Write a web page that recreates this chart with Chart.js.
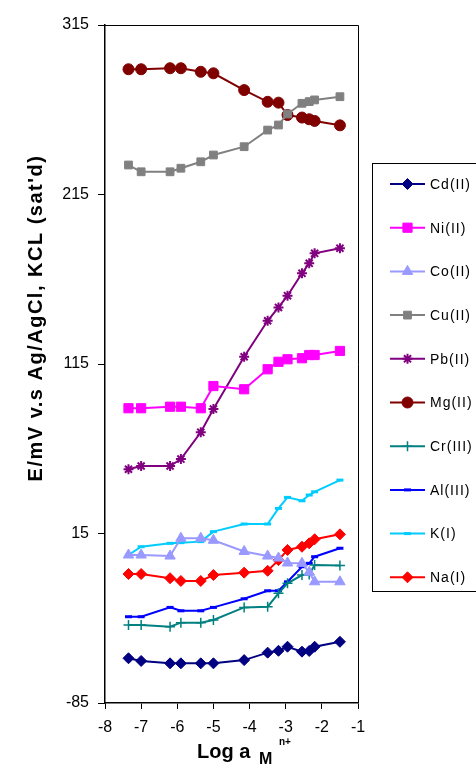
<!DOCTYPE html>
<html>
<head>
<meta charset="utf-8">
<title>Potential response of the electrode</title>
<script src="https://cdn.jsdelivr.net/npm/chart.js@4.4.1/dist/chart.umd.min.js"></script>
<style>
  body { margin: 0; background: #fff; }
  #wrap { width: 476px; height: 765px; }
</style>
</head>
<body>
<div id="wrap"><canvas id="chart" width="476" height="765"></canvas></div>
<script>
// Log activity of the metal ion (same for every series)
const logA = [-7.35, -7.0, -6.2, -5.9, -5.35, -5.0, -4.15, -3.5, -3.2, -2.95, -2.55, -2.35, -2.2, -1.5];

// E/mV readings
const cd = [-58.6, -60.2, -61.6, -61.6, -61.6, -61.6, -59.7, -55.3, -54.2, -51.8, -54.7, -54.3, -51.8, -48.9];
const ni = [88.9, 88.9, 89.8, 89.8, 88.9, 102, 100.1, 111.9, 116.3, 117.8, 118.4, 120.3, 120.3, 122.7];
const co = [2.3, 2.3, 1.7, 12.2, 12.2, 11.0, 4.4, 1.7, 0.5, -2.4, -2.6, -7.8, -13.5, -13.5];
const cu = [232.4, 228.4, 228.4, 230.5, 234.3, 238.3, 243.2, 253, 256, 262.5, 268.8, 269.8, 270.8, 272.7];
const pb = [52.9, 54.8, 54.8, 58.9, 74.7, 88.4, 119.3, 140.5, 148.4, 155.3, 168.5, 174.4, 180.3, 183.3];
const mg = [288.9, 288.9, 289.5, 289.5, 287.4, 286.5, 276.6, 269.7, 269.2, 261.9, 260.4, 259.4, 258.4, 255.8];
const cr = [-39, -39, -40, -37.6, -37.6, -36, -28.6, -28.2, -20.3, -14.4, -9.5, -9.2, -3.6, -3.9];
const al = [-34.1, -34.1, -28.6, -30.6, -30.6, -28.6, -23.5, -18.8, -18.8, -13.5, -4.6, -2.6, 1.3, 6.3];
const k  = [2.3, 7.2, 9.2, 9.6, 10.2, 16.1, 20.6, 20.6, 29.8, 36.3, 34.3, 37.7, 39.6, 46.5];
const na = [-8.9, -8.9, -11.4, -13.0, -13.0, -9.5, -8.1, -7.0, -0.7, 5.3, 7.2, 9.2, 11.6, 14.5];

const seriesNames = ['Cd(II)', 'Ni(II)', 'Co(II)', 'Cu(II)', 'Pb(II)', 'Mg(II)', 'Cr(III)', 'Al(III)', 'K(I)', 'Na(I)'];
const yTicks = [-85, 15, 115, 215, 315];

const FONT = "'Liberation Sans', Arial, sans-serif";

function series(label, values, color, style, radius, bw) {
    return {
        label: label,
        data: values.map((v, i) => ({ x: logA[i], y: v })),
        borderColor: color,
        backgroundColor: color,
        pointBackgroundColor: color,
        pointBorderColor: color,
        pointStyle: style,
        pointRadius: radius,
        pointBorderWidth: bw,
        borderWidth: 2,
        tension: 0
    };
}

// Legend box drawn at the right like the original
const legendBox = {
    id: 'legendBox',
    afterDraw(chart) {
        const ctx = chart.ctx;
        ctx.save();
        ctx.strokeStyle = '#000';
        ctx.lineWidth = 1;
        ctx.strokeRect(372.5, 163.5, 110, 428);
        chart.data.datasets.forEach((ds, i) => {
            const y = 184 + i * 43.7;
            ctx.strokeStyle = ds.borderColor;
            ctx.lineWidth = 2;
            ctx.beginPath();
            ctx.moveTo(390, y);
            ctx.lineTo(425, y);
            ctx.stroke();
            ctx.fillStyle = ds.pointBackgroundColor;
            ctx.strokeStyle = ds.pointBorderColor;
            ctx.lineWidth = ds.pointBorderWidth;
            Chart.helpers.drawPoint(ctx, {
                pointStyle: ds.pointStyle,
                radius: ds.pointRadius,
                rotation: 0,
                borderWidth: ds.pointBorderWidth
            }, 407.5, y);
            ctx.fillStyle = '#000';
            ctx.font = '14px ' + FONT;
            ctx.textBaseline = 'middle';
            ctx.textAlign = 'left';
            ctx.letterSpacing = '1px';
            ctx.fillText(ds.label, 430, y + 1);
        });
        ctx.restore();
    }
};

// Frame on top/right and the axis titles (subscript / superscript)
const frameAndTitles = {
    id: 'frameAndTitles',
    afterDraw(chart) {
        const ctx = chart.ctx;
        const a = chart.chartArea;
        ctx.save();
        ctx.strokeStyle = '#000';
        ctx.lineWidth = 1;
        ctx.beginPath();
        ctx.moveTo(a.left, a.top + 0.5);
        ctx.lineTo(a.right + 0.5, a.top + 0.5);
        ctx.lineTo(a.right + 0.5, a.bottom);
        ctx.stroke();

        // y title
        ctx.fillStyle = '#000';
        ctx.translate(36, 318);
        ctx.rotate(-Math.PI / 2);
        ctx.font = 'bold 20px ' + FONT;
        ctx.letterSpacing = '1.5px';
        ctx.textAlign = 'center';
        ctx.textBaseline = 'middle';
        ctx.fillText("E/mV v.s Ag/AgCl, KCL (sat'd)", 0, 0);
        ctx.setTransform(1, 0, 0, 1, 0, 0);

        // x title: Log a  M (sub)  n+ (sup)
        ctx.letterSpacing = '0px';
        ctx.textAlign = 'left';
        ctx.textBaseline = 'alphabetic';
        ctx.font = 'bold 20px ' + FONT;
        ctx.fillText('Log a', 197, 758);
        ctx.font = 'bold 16px ' + FONT;
        ctx.fillText('M', 259, 764);
        ctx.font = 'bold 10px ' + FONT;
        ctx.fillText('n+', 279, 745);
        ctx.restore();
    }
};

const datasets = [
    series(seriesNames[0], cd, '#000080', 'rectRot', 5.5, 1),
    series(seriesNames[1], ni, '#FF00FF', 'rect', 6.5, 1),
    series(seriesNames[2], co, '#9999FF', 'triangle', 6, 1),
    series(seriesNames[3], cu, '#808080', 'rect', 5.5, 1),
    series(seriesNames[4], pb, '#800080', 'star', 5, 2),
    series(seriesNames[5], mg, '#800000', 'circle', 5.5, 1),
    series(seriesNames[6], cr, '#008080', 'cross', 5, 1.5),
    series(seriesNames[7], al, '#0000FF', 'line', 3.5, 3),
    series(seriesNames[8], k, '#00CCFF', 'line', 3.5, 3),
    series(seriesNames[9], na, '#FF0000', 'rectRot', 5.5, 1)
];

new Chart(document.getElementById('chart'), {
    type: 'line',
    data: { datasets: datasets },
    options: {
        responsive: false,
        animation: false,
        layout: { padding: { top: 25, right: 118, left: 0, bottom: 0 } },
        plugins: {
            legend: { display: false },
            tooltip: { enabled: false }
        },
        scales: {
            x: {
                type: 'linear',
                min: -8,
                max: -1,
                ticks: { stepSize: 1, color: '#000', font: { size: 16, family: FONT }, padding: 9 },
                grid: { drawOnChartArea: false, drawTicks: true, tickLength: 6, color: '#000' },
                border: { display: true, color: '#000', width: 1.5 },
                afterFit: scale => { scale.height = 62; }
            },
            y: {
                type: 'linear',
                min: -85,
                max: 315,
                afterBuildTicks: scale => { scale.ticks = yTicks.map(v => ({ value: v })); },
                ticks: { color: '#000', font: { size: 16, family: FONT }, padding: 9 },
                grid: { drawOnChartArea: false, drawTicks: true, tickLength: 7, color: '#000' },
                border: { display: true, color: '#000', width: 1.5 },
                afterFit: scale => { scale.width = 105; }
            }
        }
    },
    plugins: [legendBox, frameAndTitles]
});
</script>
</body>
</html>
